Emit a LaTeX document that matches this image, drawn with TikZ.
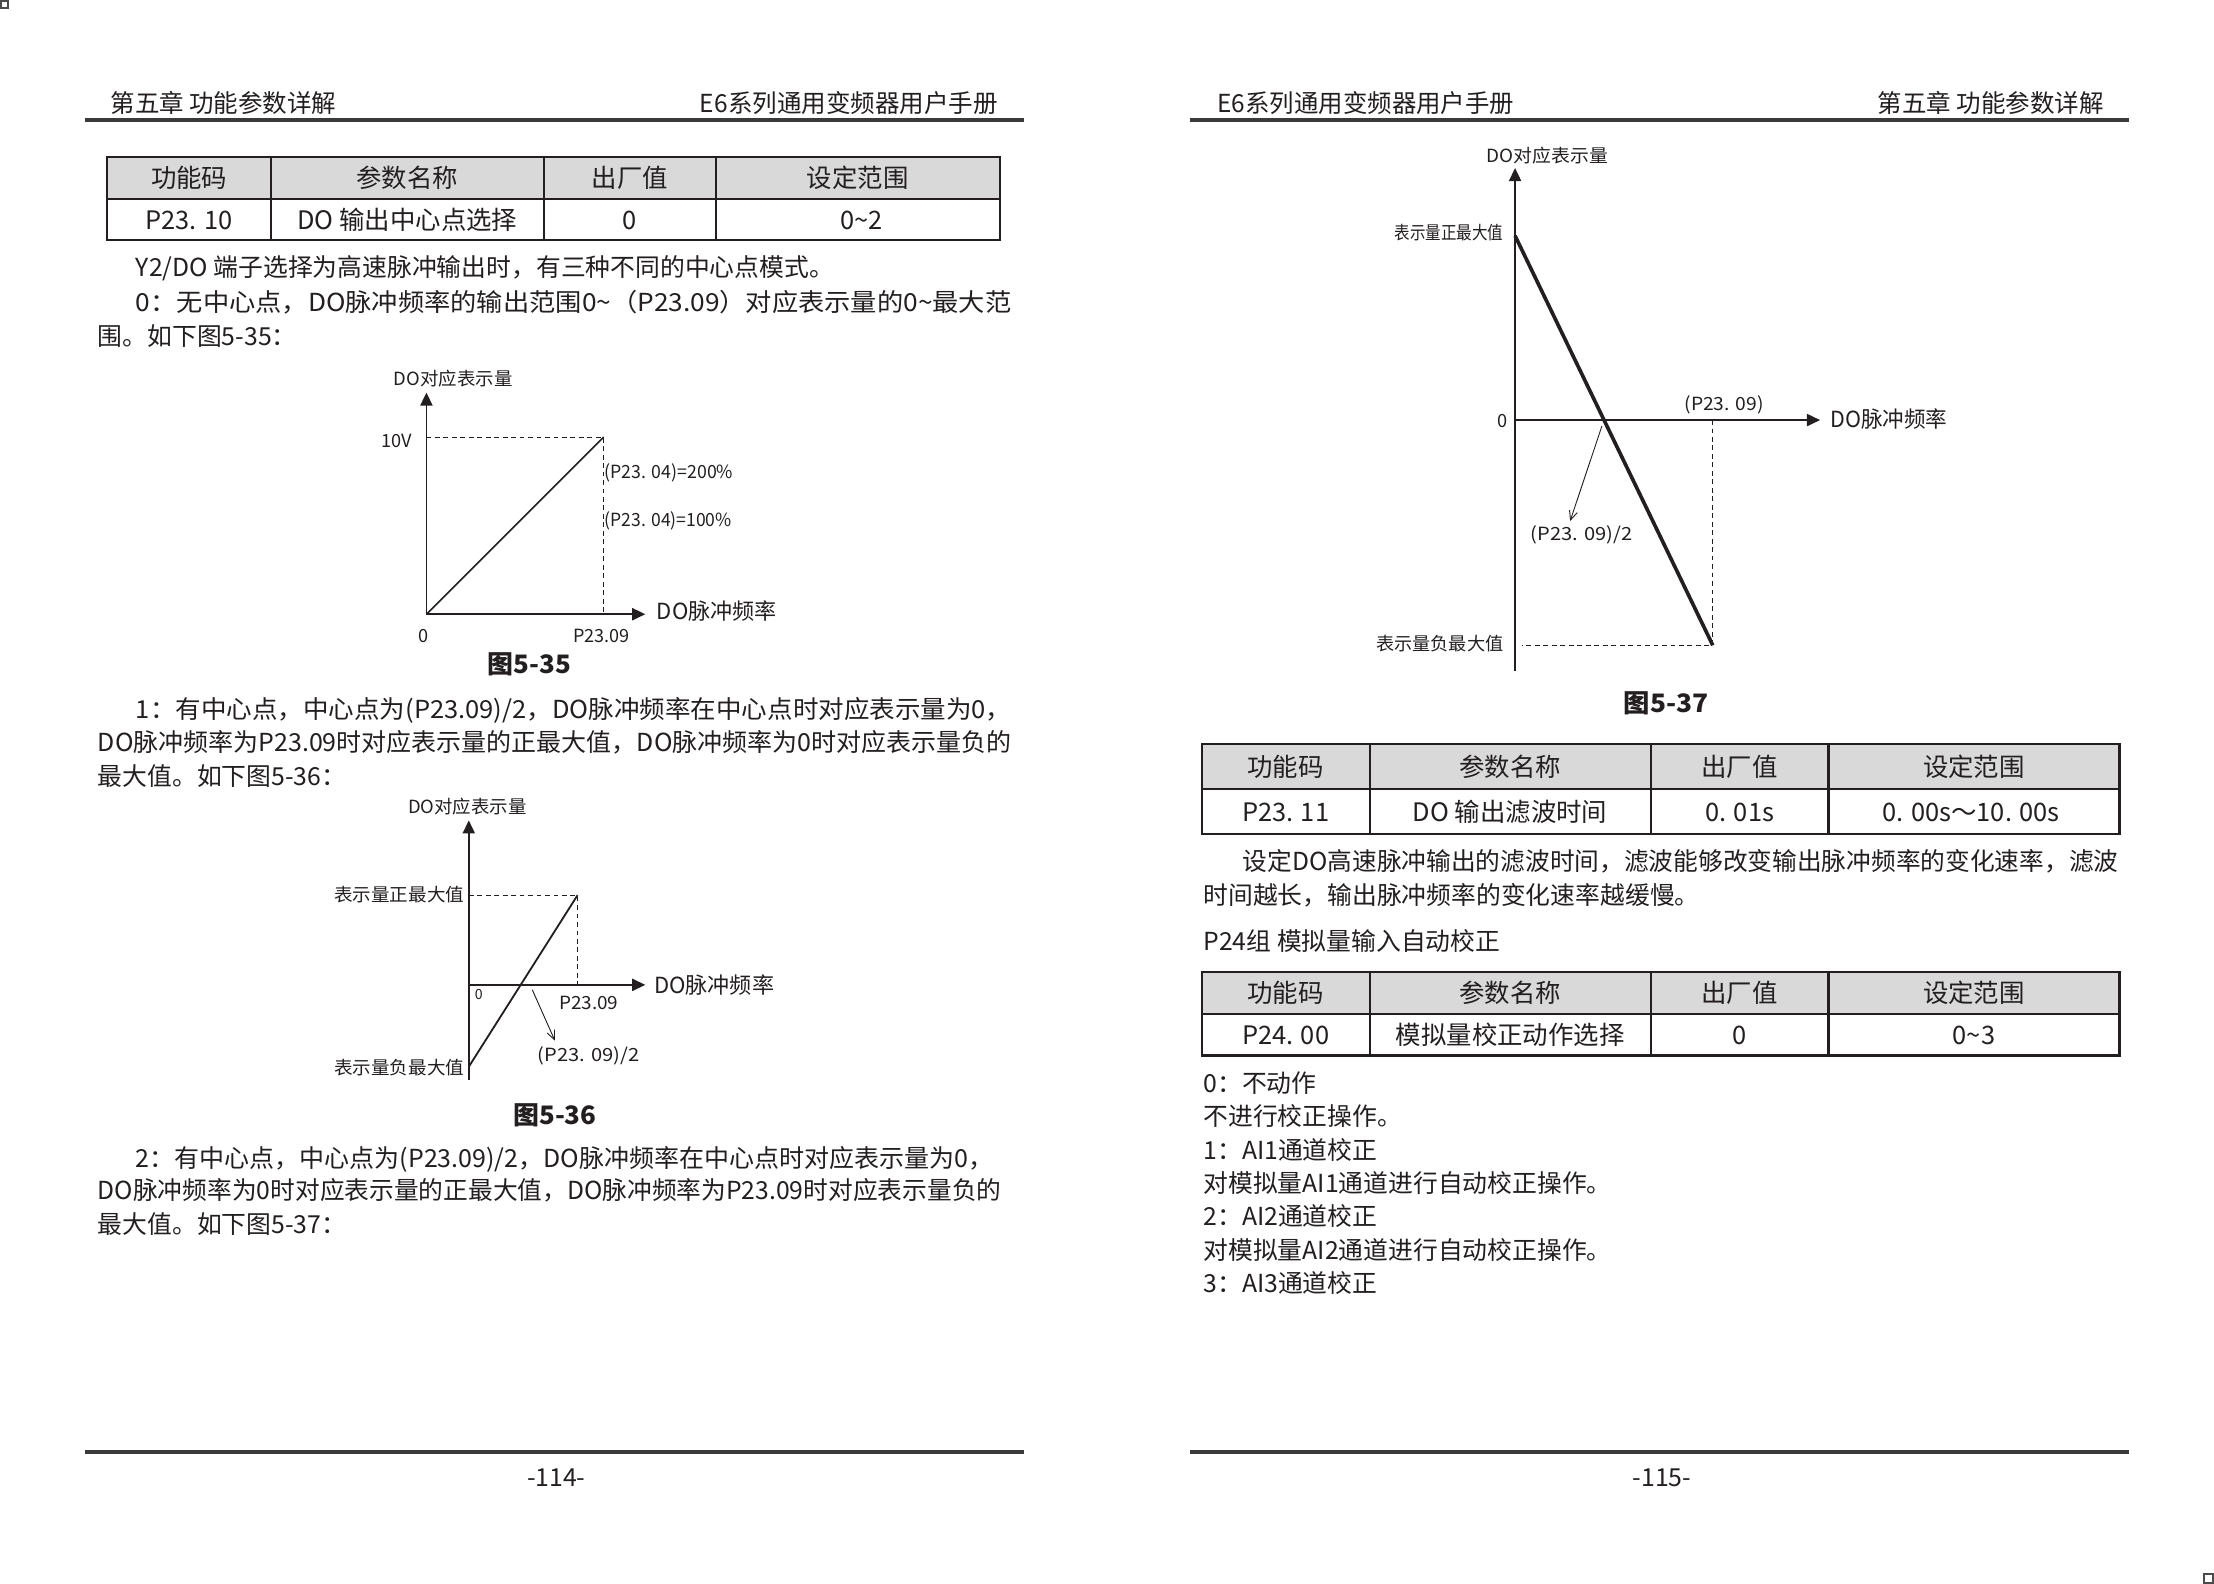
\documentclass[tikz,border=0pt]{standalone}
\usepackage{fontspec}
\setmainfont{Noto Sans CJK SC}
\usepackage{graphicx}
\usetikzlibrary{arrows.meta}
\newlength\pxu
\setlength\pxu{0.7pt}
\newcommand\fw[2]{\resizebox{#1\pxu}{\height}{#2}}
\newcommand\tld{{\textasciitilde}}
\definecolor{ink}{HTML}{231F20}
\definecolor{hdrfill}{HTML}{D9D9D9}
\definecolor{rulec}{HTML}{3A3A3A}
\tikzset{
  body/.style={inner sep=0pt,text=ink,font=\fontsize{12.3}{14}\selectfont,text height=10.6pt,text depth=1.5pt},
  tabt/.style={inner sep=0pt,text=ink,font=\fontsize{12.6}{14}\selectfont,text height=10.8pt,text depth=1.5pt},
  lab/.style={inner sep=0pt,text=ink,font=\fontsize{9}{11}\selectfont,text height=7.8pt,text depth=1.1pt},
  labs/.style={inner sep=0pt,text=ink,font=\fontsize{7}{8}\selectfont,text height=6pt,text depth=0.8pt},
  labm/.style={inner sep=0pt,text=ink,font=\fontsize{11}{13}\selectfont,text height=9.5pt,text depth=1.3pt},
  figcap/.style={inner sep=0pt,text=ink,font=\fontsize{12.6}{14}\selectfont\bfseries,text height=10.8pt,text depth=1.5pt},
  axis/.style={line width=0.9pt,draw=ink,-{Triangle[length=6.5pt,width=6pt]}},
  ptr/.style={line width=0.45pt,draw=ink,-{Straight Barb[length=4.5pt,width=4pt]}},
  dsh/.style={line width=0.45pt,draw=ink,dash pattern=on 2.4pt off 1.8pt},
  tabline/.style={line width=1.1pt,draw=ink},
  hrule/.style={line width=2.1pt,draw=rulec},
  corner/.style={line width=1pt,draw=black!70},
}
\begin{document}
\begin{tikzpicture}[x=0.7pt,y=-0.7pt]
\useasboundingbox (0,0) rectangle (1568,1121.8);
\fill[white] (0,0) rectangle (1568,1121.8);
% corner marks
\draw[corner] (0.7,0.7) rectangle (6,6);
\draw[corner] (1561,1115) rectangle (1567.3,1121.1);

%================ LEFT PAGE ================
\node[body,anchor=west] (lh1) at (78,73) {\fw{160}{第五章 功能参数详解}};
\node[body,anchor=east] (lh2) at (707,73) {\fw{211}{E6系列通用变频器用户手册}};
\draw[hrule] (60,85) -- (725,85);

% table 1
\fill[hdrfill] (76,111) rectangle (708,141);
\draw[tabline] (76,111) rectangle (708,170);
\draw[tabline] (76,141) -- (708,141);
\draw[tabline] (192,111) -- (192,170) (385,111) -- (385,170) (507,111) -- (507,170);
\node[tabt] (a11) at (134,126) {功能码};
\node[tabt] (a12) at (288.5,126) {参数名称};
\node[tabt] (a13) at (446,126) {出厂值};
\node[tabt] (a14) at (607.5,126) {设定范围};
\node[tabt] (a21) at (134,156) {P23. 10};
\node[tabt] (a22) at (288.5,156) {DO\ 输出中心点选择};
\node[tabt] (a23) at (446,156) {0};
\node[tabt] (a24) at (610,156) {0\tld 2};

\node[body,anchor=west] (l1) at (96,189) {Y2/DO 端子选择为高速脉冲输出时，有三种不同的中心点模式。};
\node[body,anchor=west] (l2) at (96,214) {\fw{620}{0：无中心点，DO脉冲频率的输出范围0\tld （P23.09）对应表示量的0\tld 最大范}};
\node[body,anchor=west] (l3) at (69,238) {围。如下图5-35：};

% figure 5-35
\coordinate (o1) at (302,435);
\coordinate (y1) at (302,278);
\coordinate (x1) at (457,435);
\coordinate (p1) at (427.5,309.5);
\coordinate (q1) at (302,309.5);
\coordinate (r1) at (427.5,435);
\draw[dsh] (q1) -- (p1) -- (r1);
\draw[axis] (o1) -- (y1);
\draw[axis] (o1) -- (x1);
\draw[line width=0.8pt,draw=ink] (o1) -- (p1);
\node[lab] (f1y) at (321,268) {\fw{84}{DO对应表示量}};
\node[lab] (f1v) at (281,312) {10V};
\node[lab,anchor=west] (f1a) at (428,334) {\fw{91}{(P23. 04)=200\%}};
\node[lab,anchor=west] (f1b) at (428,368) {\fw{90}{(P23. 04)=100\%}};
\node[labm,anchor=west] (f1x) at (465,433) {\fw{85}{DO脉冲频率}};
\node[lab] (f1o) at (300,450) {0};
\node[lab] (f1p) at (426,450) {\fw{40}{P23.09}};
\node[figcap] (f1c) at (375,470) {\fw{59}{图5-35}};

\node[body,anchor=west] (l4) at (96,502) {\fw{620}{1：有中心点，中心点为(P23.09)/2，DO脉冲频率在中心点时对应表示量为0，}};
\node[body,anchor=west] (l5) at (69,526) {\fw{647}{DO脉冲频率为P23.09时对应表示量的正最大值，DO脉冲频率为0时对应表示量负的}};
\node[body,anchor=west] (l6) at (69,550) {最大值。如下图5-36：};

% figure 5-36
\coordinate (o2) at (332,697.5);
\coordinate (yb2) at (332,765);
\coordinate (y2) at (332,581);
\coordinate (x2) at (457,697.5);
\coordinate (n2) at (332,755.5);
\coordinate (p2) at (409,634);
\coordinate (q2) at (332,634);
\coordinate (r2) at (409,697.5);
\coordinate (a2s) at (377,701);
\coordinate (a2e) at (393,737);
\draw[dsh] (q2) -- (p2) -- (r2);
\draw[axis] (yb2) -- (y2);
\draw[axis] (o2) -- (x2);
\draw[line width=0.9pt,draw=ink] (n2) -- (p2);
\draw[ptr] (a2s) -- (a2e);
\node[lab] (f2y) at (331,571) {\fw{84}{DO对应表示量}};
\node[lab,anchor=east] (f2pos) at (329,634) {\fw{92}{表示量正最大值}};
\node[lab,anchor=east] (f2neg) at (329,756) {\fw{92}{表示量负最大值}};
\node[labm,anchor=west] (f2x) at (463,698) {\fw{85}{DO脉冲频率}};
\node[labs] (f2o) at (339,704) {0};
\node[lab] (f2p) at (417,710) {\fw{42}{P23.09}};
\node[lab] (f2h) at (417,747) {\fw{72}{(P23. 09)/2}};
\node[figcap] (f2c) at (393,790) {\fw{59}{图5-36}};

\node[body,anchor=west] (l7) at (96,820) {\fw{607}{2：有中心点，中心点为(P23.09)/2，DO脉冲频率在中心点时对应表示量为0，}};
\node[body,anchor=west] (l8) at (69,843) {\fw{640}{DO脉冲频率为0时对应表示量的正最大值，DO脉冲频率为P23.09时对应表示量负的}};
\node[body,anchor=west] (l9) at (69,867) {最大值。如下图5-37：};

\draw[hrule] (60,1028.5) -- (725,1028.5);
\node[body] (lf) at (394,1046) {-114-};

%================ RIGHT PAGE ================
\node[body,anchor=west] (rh1) at (862,73) {\fw{210}{E6系列通用变频器用户手册}};
\node[body,anchor=east] (rh2) at (1490,73) {\fw{160}{第五章 功能参数详解}};
\draw[hrule] (843,85) -- (1508,85);

% figure 5-37
\coordinate (o3) at (1073,297.5);
\coordinate (yb3) at (1073,475);
\coordinate (y3) at (1073,119);
\coordinate (x3) at (1289,297.5);
\coordinate (t3) at (1073,167);
\coordinate (b3) at (1213,457);
\coordinate (v3) at (1213,297.5);
\coordinate (h3) at (1078,457);
\coordinate (a3s) at (1134.5,301.7);
\coordinate (a3e) at (1112,369);
\draw[dsh] (v3) -- (b3) -- (h3);
\draw[axis] (yb3) -- (y3);
\draw[axis] (o3) -- (x3);
\draw[line width=1.8pt,draw=ink] (t3) -- (b3);
\draw[ptr] (a3s) -- (a3e);
\node[lab] (f3y) at (1096,110) {\fw{86}{DO对应表示量}};
\node[lab,anchor=east] (f3pos) at (1065,165) {\fw{77}{表示量正最大值}};
\node[lab] (f3o) at (1064,298) {0};
\node[lab] (f3p) at (1221,286) {\fw{56}{(P23. 09)}};
\node[labm,anchor=west] (f3x) at (1296,297) {\fw{83}{DO脉冲频率}};
\node[lab] (f3h) at (1120,378) {\fw{72}{(P23. 09)/2}};
\node[lab,anchor=east] (f3neg) at (1065,456) {\fw{90}{表示量负最大值}};
\node[figcap] (f3c) at (1180,498) {\fw{60}{图5-37}};

% table 2
\fill[hdrfill] (851,527) rectangle (1501,559);
\draw[tabline] (851,527) rectangle (1501,590.5);
\draw[tabline] (851,559) -- (1501,559);
\draw[tabline] (970,527) -- (970,590.5) (1169,527) -- (1169,590.5) (1295,527) -- (1295,590.5);
\node[tabt] (b11) at (910.5,543) {功能码};
\node[tabt] (b12) at (1069.5,543) {参数名称};
\node[tabt] (b13) at (1232,543) {出厂值};
\node[tabt] (b14) at (1398,543) {设定范围};
\node[tabt] (b21) at (910.5,575) {P23. 11};
\node[tabt] (b22) at (1069.5,575) {DO\ 输出滤波时间};
\node[tabt] (b23) at (1232,575) {0. 01s};
\node[tabt] (b24) at (1396,575) {0. 00s～10. 00s};

\node[body,anchor=west] (r1) at (880,610) {\fw{620}{设定DO高速脉冲输出的滤波时间，滤波能够改变输出脉冲频率的变化速率，滤波}};
\node[body,anchor=west] (r2) at (852,634) {时间越长，输出脉冲频率的变化速率越缓慢。};
\node[body,anchor=west] (r3) at (852,667) {P24组 模拟量输入自动校正};

% table 3
\fill[hdrfill] (851,688.5) rectangle (1501,718);
\draw[tabline] (851,688.5) rectangle (1501,747.5);
\draw[tabline] (851,718) -- (1501,718);
\draw[tabline] (970,688.5) -- (970,747.5) (1169,688.5) -- (1169,747.5) (1295,688.5) -- (1295,747.5);
\node[tabt] (c11) at (910.5,703) {功能码};
\node[tabt] (c12) at (1069.5,703) {参数名称};
\node[tabt] (c13) at (1232,703) {出厂值};
\node[tabt] (c14) at (1398,703) {设定范围};
\node[tabt] (c21) at (910.5,733) {P24. 00};
\node[tabt] (c22) at (1069.5,733) {模拟量校正动作选择};
\node[tabt] (c23) at (1232,733) {0};
\node[tabt] (c24) at (1398,733) {0\tld 3};

\node[body,anchor=west] (r4) at (852,767) {0：不动作};
\node[body,anchor=west] (r5) at (852,790.8) {不进行校正操作。};
\node[body,anchor=west] (r6) at (852,814.4) {1：AI1通道校正};
\node[body,anchor=west] (r7) at (852,838) {对模拟量AI1通道进行自动校正操作。};
\node[body,anchor=west] (r8) at (852,861.7) {2：AI2通道校正};
\node[body,anchor=west] (r9) at (852,885.3) {对模拟量AI2通道进行自动校正操作。};
\node[body,anchor=west] (r10) at (852,908.8) {3：AI3通道校正};

\draw[hrule] (843,1028.5) -- (1508,1028.5);
\node[body] (rf) at (1177,1046) {-115-};
\end{tikzpicture}
\end{document}
